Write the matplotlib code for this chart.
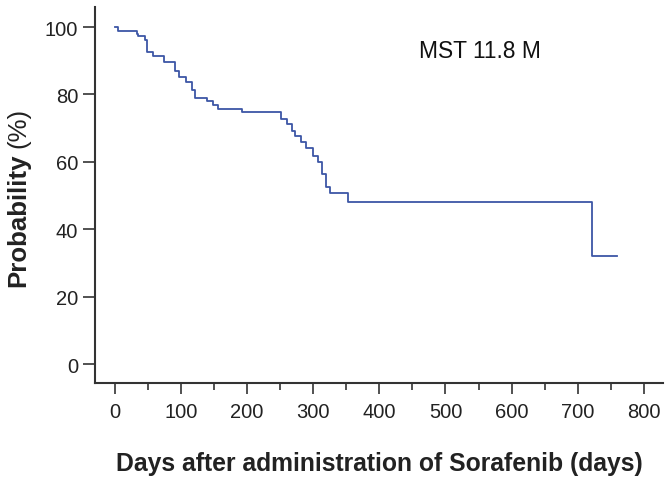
import matplotlib
matplotlib.use("Agg")
import matplotlib.pyplot as plt
from matplotlib.ticker import MultipleLocator

plt.rcParams['font.family'] = ['Liberation Sans', 'DejaVu Sans']

# Kaplan-Meier step data (drop times in days, survival % after drop)
times = [0, 5, 33, 35, 46, 49, 58, 74, 91, 97, 108, 117, 121, 140, 148, 156,
         193, 252, 261, 268, 272, 281, 289, 299, 308, 314, 319, 325, 353, 721]
surv = [100, 98.8, 97.9, 97.2, 96.2, 92.5, 91.5, 89.7, 87.0, 85.1, 83.8, 81.3,
        79.0, 78.0, 76.9, 75.7, 74.7, 72.7, 71.1, 69.3, 67.7, 66.0, 64.0, 61.8,
        60.0, 56.4, 52.4, 50.7, 48.2, 32.1]
last_followup = 760

xticks = [0, 100, 200, 300, 400, 500, 600, 700, 800]
yticks = [0, 20, 40, 60, 80, 100]

W, H = 669, 481
fig = plt.figure(figsize=(W / 100, H / 100), dpi=100)
ax = fig.add_axes([0.142, 0.2017, 0.849, 0.7813])

ax.step(times + [last_followup], surv + [surv[-1]], where='post',
        color='#3d56a6', lw=1.3)

ax.set_xlim(-30, 829)
ax.set_ylim(-5.6, 105.9)
ax.set_xticks(xticks)
ax.set_yticks(yticks)
ax.xaxis.set_minor_locator(MultipleLocator(50))

for s in ['top', 'right']:
    ax.spines[s].set_visible(False)
for s in ['left', 'bottom']:
    ax.spines[s].set_color('#333333')
    ax.spines[s].set_linewidth(1.5)

ax.tick_params(axis='both', which='major', labelsize=14.5, colors='#333333',
               labelcolor='#222222', width=1.2)
ax.tick_params(axis='x', which='major', length=8, pad=6)
ax.tick_params(axis='x', which='minor', length=5, width=1.2, colors='#333333')
ax.tick_params(axis='y', which='major', length=9, pad=3)

ax.set_xlabel('Days after administration of Sorafenib (days)', fontsize=17.8,
              fontweight='bold', color='#222222', labelpad=21)

# y label: bold "Probability" followed by regular "(%)"
t1 = fig.text(18 / W, 1 - 287 / H, 'Probability', rotation=90, fontsize=18.6,
              fontweight='bold', color='#222222', ha='center', va='bottom')
fig.canvas.draw()
bb = t1.get_window_extent(fig.canvas.get_renderer())
fig.text(18 / W, (bb.y1 + 5) / H, '(%)', rotation=90, fontsize=18.6,
         color='#222222', ha='center', va='bottom')

ax.text(0.678, 0.886, 'MST 11.8 M', transform=ax.transAxes, fontsize=16.4,
        color='#111111', ha='center', va='center')

fig.savefig('out.png', dpi=100)
